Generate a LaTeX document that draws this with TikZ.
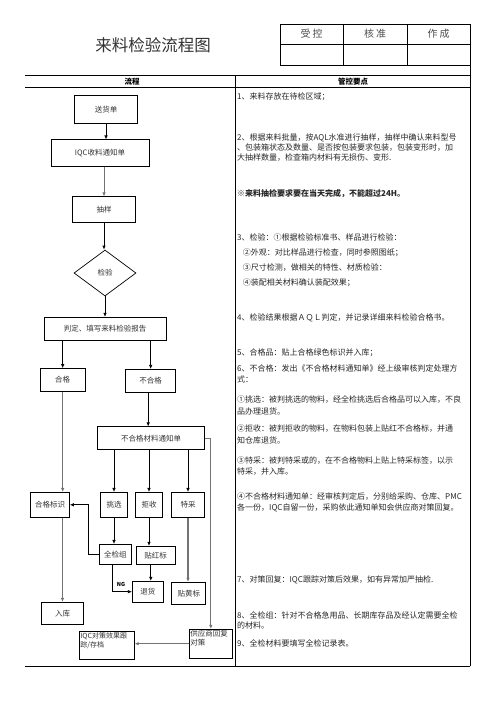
\documentclass[tikz,border=0pt]{standalone}
\usepackage{fontspec}
\setmainfont{Noto Sans CJK SC}
\usepackage{tikz}
\usetikzlibrary{arrows.meta, positioning, shapes.geometric}

\tikzset{
  tbl/.style={line width=0.9pt, black},
  box/.style={draw, line width=0.7pt, inner sep=0pt, font=\fontsize{7.5}{9}\selectfont, text=black!80},
  wh/.style 2 args={minimum width=#1pt, minimum height=#2pt},
  arr/.style={line width=0.7pt, -{Latex[length=4pt,width=3.5pt]}},
  garr/.style={arr, draw=black!55, line width=0.9pt},
  head/.style={font=\fontsize{7.5}{9}\selectfont\bfseries, inner sep=0pt},
  sign/.style={font=\fontsize{10}{12}\selectfont, text=black!70, inner sep=0pt},
  note/.style={anchor=west, inner sep=0pt, font=\fontsize{8}{10}\selectfont, text=black!85, text height=7pt, text depth=1pt},
}

\begin{document}
\begin{tikzpicture}[x=1pt, y=-1pt]
    \useasboundingbox (0,0) rectangle (496,702);

    % Title and sign-off box
    \node[font=\fontsize{16.5}{18}\selectfont, text=black!80] (title) at (153,45) {来料检验流程图};
    \draw[tbl] (280,24) rectangle (470,65);
    \draw[tbl] (280,44) -- (470,44);
    \draw[tbl] (343,24) -- (343,65);
    \draw[tbl] (407,24) -- (407,65);
    \node[sign] (shoukong) at (311.5,34) {受\hspace{2pt}控};
    \node[sign] (hezhun) at (375,34) {核\hspace{2pt}准};
    \node[sign] (zuocheng) at (438.5,34) {作\hspace{2pt}成};

    % Table frame
    \draw[tbl] (470,65) -- (470,666);
    \draw[tbl] (25,75.7) -- (470,75.7);
    \draw[tbl] (25,87) -- (470,87);
    \draw[tbl] (25,666) -- (470,666);
    \draw[tbl] (235.7,75.7) -- (235.7,666);
    \node[head] (hliucheng) at (132,81.5) {流程};
    \node[head] (hguankong) at (353,81.5) {管控要点};

    % Flow: receiving and inspection
    \node[box, wh={63}{28}] (songhuo) at (106,109.5) {送货单};
    \node[box, wh={98}{27}] (iqc) at (100,153.3) {IQC收料通知单};
    \node[box, wh={63}{26}] (chouyang) at (104,209.7) {抽样};
    \node[box, diamond, aspect=1.35, wh={62}{46}] (jianyan) at (105,273) {检验};
    \node[box, wh={122}{23}] (panding) at (105,328.7) {判定、填写来料检验报告};

    % Flow: pass / fail
    \node[box, wh={45}{23}] (hege) at (62.7,380) {合格};
    \node[box, wh={50}{23}] (buhege) at (150.7,380.8) {不合格};
    \node[box, wh={107}{23}] (tongzhi) at (151,438.3) {不合格材料通知单};
    \node[box, wh={39}{25}] (hgbs) at (50,504.8) {合格标识};
    \node[box, wh={27}{25}] (tiaoxuan) at (114,504.8) {挑选};
    \node[box, wh={27}{25}] (jushou) at (149,504.8) {拒收};
    \node[box, wh={33}{25}] (tecai) at (188,504.8) {特采};
    \node[box, wh={32}{20}] (quanjian) at (115.3,554.3) {全检组};
    \node[box, wh={39}{18}] (hongbiao) at (155.7,555.2) {贴红标};
    \node[box, wh={31}{21}] (tuihuo) at (147.8,591.7) {退货};
    \node[box, wh={34}{22}] (huangbiao) at (188.8,593.2) {贴黄标};
    \node[box, wh={42}{22}] (ruku) at (62.5,613.2) {入库};
    \node[box, wh={55}{28}] (iqcgz) at (106.8,645.5)
        {\parbox[t][26.4pt][t]{53pt}{\raggedright\fontsize{7}{9.7}\selectfont IQC对策效果跟\\踪/存档}};
    \node[box, wh={43}{29}] (gongying) at (210.8,643.7)
        {\parbox[t][26.3pt][t]{41pt}{\raggedright\fontsize{7.5}{9}\selectfont 供应商回复\\对策}};

    % Connectors
    \draw[arr] (songhuo.south) -- (songhuo.south |- iqc.north);
    \draw[garr] (chouyang.north |- iqc.south) -- (chouyang.north);
    \draw[arr] (chouyang.south) -- (chouyang.south |- jianyan.north);
    \draw[arr] (jianyan.south) -- (jianyan.south |- panding.north);
    \draw[arr] (hege.north |- panding.south) -- (hege.north);
    \draw[arr] (buhege.north |- panding.south) -- (buhege.north);
    \draw[arr] ([xshift=-2.5pt]buhege.south) -- ([xshift=-2.5pt]buhege.south |- tongzhi.north);
    \draw[garr] (hege.south) -- (hege.south |- hgbs.north);
    \draw[arr] (tiaoxuan.north |- tongzhi.south) -- (tiaoxuan.north);
    \draw[arr] (jushou.north |- tongzhi.south) -- (jushou.north);
    \draw[arr] (tecai.north |- tongzhi.south) -- (tecai.north);
    \draw[arr] (tiaoxuan.south) -- (tiaoxuan.south |- quanjian.north);
    \draw[arr] (quanjian.west) -- ++(-10.6,0) |- (hgbs.east);
    \draw[arr] (jushou.south) -- (jushou.south |- hongbiao.north);
    \draw[arr] ([xshift=3pt]tuihuo.north |- hongbiao.south) -- ([xshift=3pt]tuihuo.north);
    \draw[arr] ([xshift=-3pt]quanjian.south) |- (tuihuo.west)
        node[pos=0.72, above=5pt, inner sep=0pt, font=\fontsize{5.5}{6}\selectfont\bfseries] (ng) {NG};
    \draw[garr, line width=1.4pt] (tecai.south) -- (tecai.south |- huangbiao.north);
    \draw[garr] (ruku.north |- hgbs.south) -- (ruku.north);
    \draw[garr] (tongzhi.east) -| (gongying.north);
    \draw[garr] (gongying.west) -- (gongying.west -| iqcgz.east);

    % Control points
    \foreach \px/\py/\ptext [count=\i] in {
        237/96.7/{1、来料存放在待检区域；},
        237/137.3/{2、根据来料批量，按AQL水准进行抽样，抽样中确认来料型号},
        237/147.3/{、包装箱状态及数量、是否按包装要求包装，包装变形时，加},
        237/157.7/{大抽样数量，检查箱内材料有无损伤、变形.},
        237/193.3/{\bfseries ※来料抽检要求要在当天完成，不能超过24H。},
        237/237.3/{3、检验：①根据检验标准书、样品进行检验：},
        242.7/252.3/{②外观：对比样品进行检查，同时参照图纸；},
        242.7/267.7/{③尺寸检测，做相关的特性、材质检验：},
        242.7/282.3/{④装配相关材料确认装配效果；},
        237/317/{4、检验结果根据ＡＱＬ判定，并记录详细来料检验合格书。},
        237/352/{5、合格品：贴上合格绿色标识并入库；},
        237/368/{6、不合格：发出《不合格材料通知单》经上级审核判定处理方},
        237/379/{式：},
        237/399/{①挑选：被判挑选的物料，经全检挑选后合格品可以入库，不良},
        237/411/{品办理退货。},
        237/428.3/{②拒收：被判拒收的物料，在物料包装上贴红不合格标，并通},
        237/440/{知仓库退货。},
        237/460/{③特采：被判特采或的，在不合格物料上贴上特采标签，以示},
        237/471/{特采，并入库。},
        237/496/{④不合格材料通知单：经审核判定后，分别给采购、仓库、PMC},
        237/507/{各一份，IQC自留一份，采购依此通知单知会供应商对策回复。},
        237/579/{7、对策回复：IQC跟踪对策后效果，如有异常加严抽检.},
        237/615.7/{8、全检组：针对不合格急用品、长期库存品及经认定需要全检},
        237/625.7/{的材料。},
        237/643.3/{9、全检材料要填写全检记录表。}}
    {\node[note] (pt\i) at (\px,\py) {\ptext};}
\end{tikzpicture}
\end{document}
